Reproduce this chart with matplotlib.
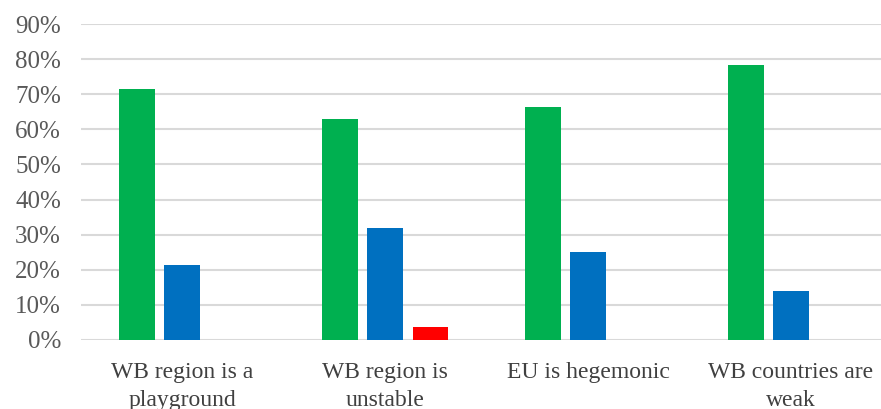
import matplotlib.pyplot as plt
import numpy as np
from matplotlib.ticker import PercentFormatter

categories = ["WB region is a\nplayground", "WB region is\nunstable",
              "EU is hegemonic", "WB countries are\nweak"]
green_vals = [71.5, 63.0, 66.4, 78.3]
blue_vals = [21.4, 31.9, 25.1, 14.0]
red_vals = [0.0, 3.7, 0.0, 0.0]

plt.rcParams["font.family"] = ["Liberation Serif", "DejaVu Serif"]

fig = plt.figure(figsize=(8.81, 4.09), dpi=100)
ax = fig.add_axes([0.0914, 0.169, 0.9217, 0.772])

x = np.arange(len(categories))
w = 0.173
step = 0.222
ax.bar(x - step, green_vals, w, color="#00b050", zorder=3)
ax.bar(x, blue_vals, w, color="#0070c0", zorder=3)
ax.bar(x + step, red_vals, w, color="#ff0000", zorder=3)

ax.set_xlim(-0.5, 3.5)
ax.set_ylim(0, 90)
ax.set_yticks(range(0, 91, 10))
ax.yaxis.set_major_formatter(PercentFormatter(decimals=0))
ax.set_xticks(x)
ax.set_xticklabels(categories, fontsize=17, color="#404040", linespacing=1.4)
ax.tick_params(axis="y", labelsize=18, labelcolor="#595959", length=0, pad=14)
ax.tick_params(axis="x", length=0, pad=16)
ax.grid(axis="y", color="#d9d9d9", lw=1.5, zorder=0)
for s in ax.spines.values():
    s.set_visible(False)

fig.savefig("out.png", dpi=100)
